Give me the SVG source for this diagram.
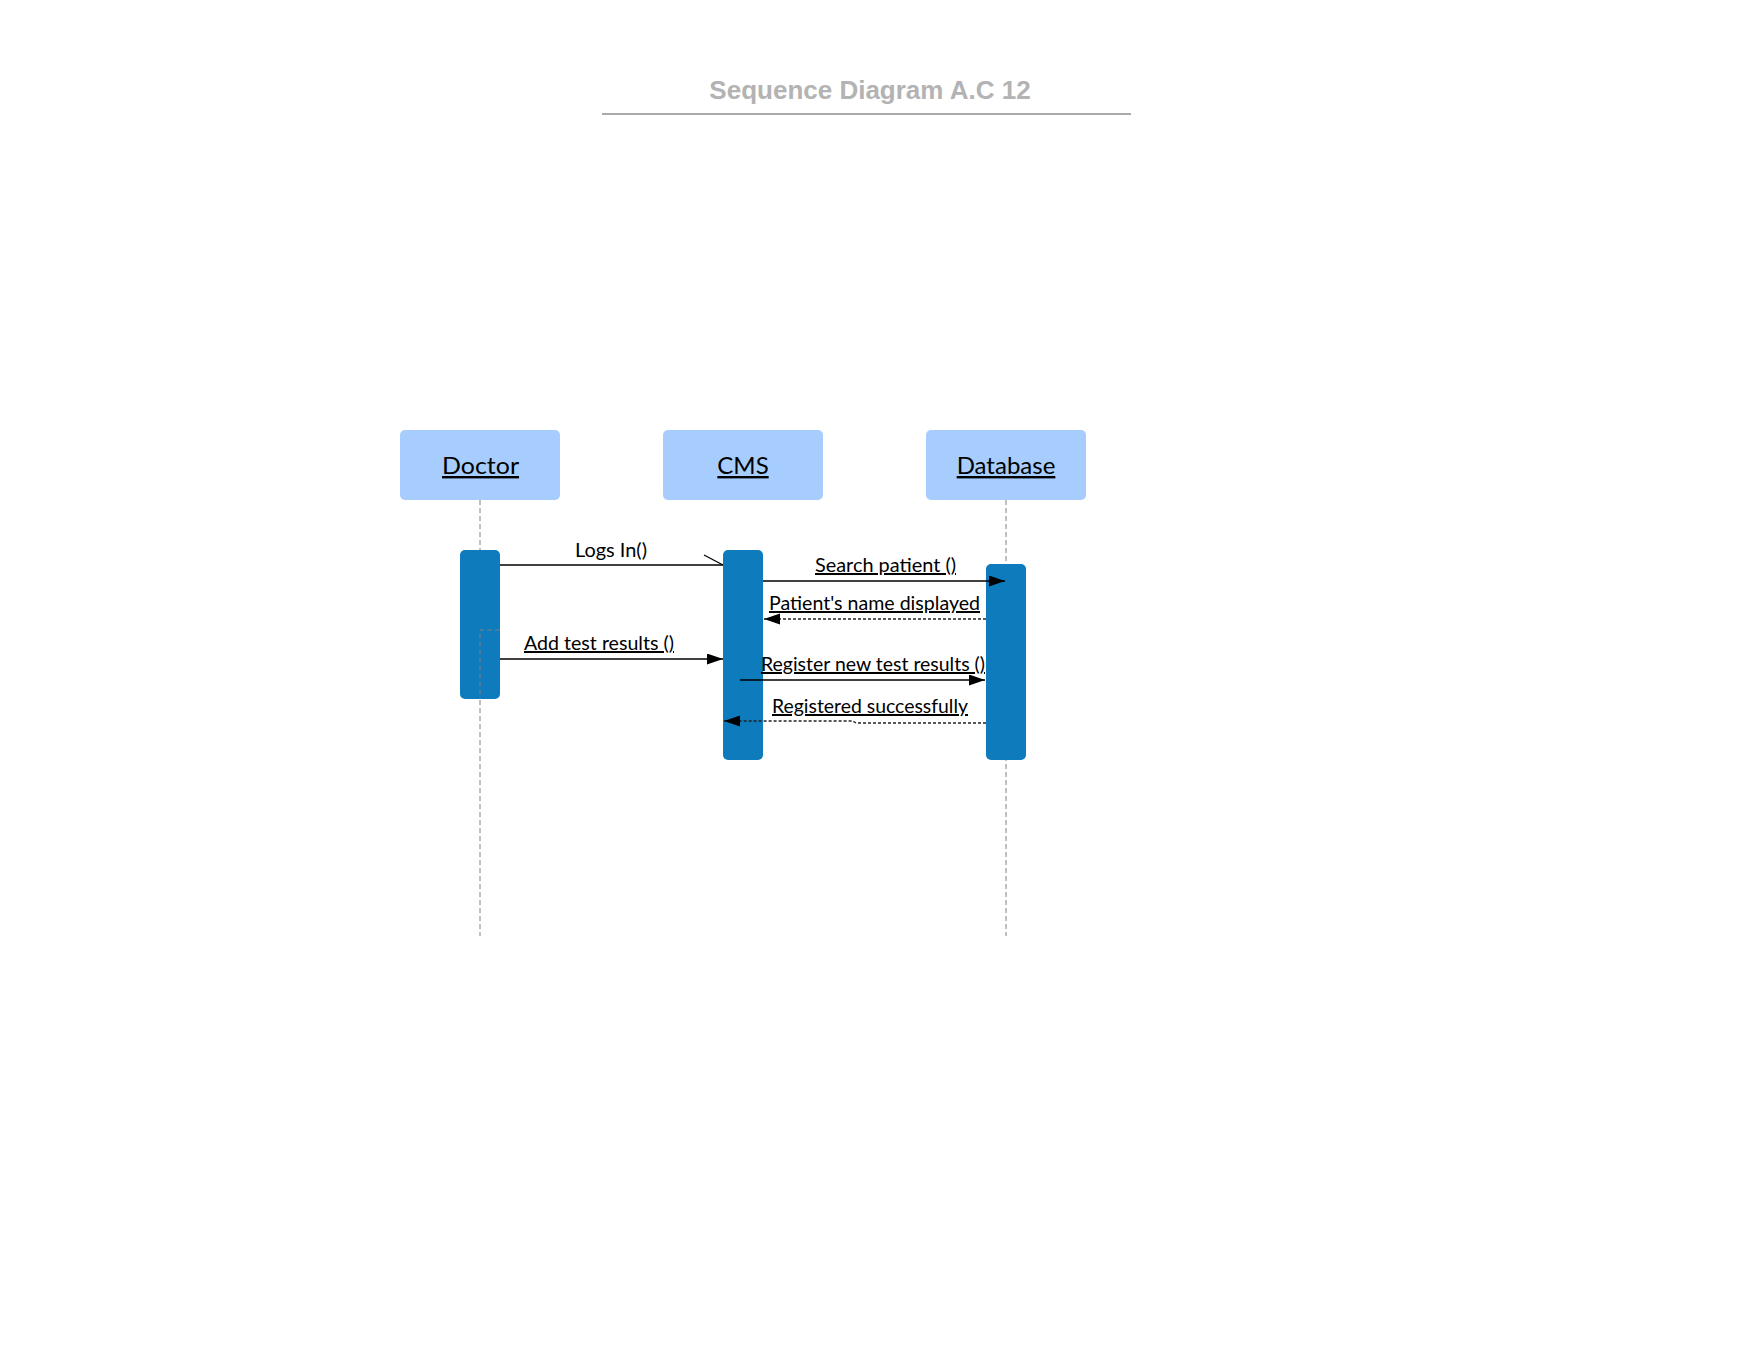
<svg xmlns="http://www.w3.org/2000/svg" width="1760" height="1360" viewBox="0 0 1760 1360">
<style>
.title{font-family:"Liberation Sans",Arial,sans-serif;font-size:26px;font-weight:bold;fill:#b3b3b3}
.head{fill:#a6cdfd}
.bar{fill:#0d7bbc}
.nlabel{font-family:Lato,"Noto Sans",sans-serif;font-size:24px;fill:#000;text-decoration:underline}
.mlabel{font-family:Lato,"Noto Sans",sans-serif;font-size:20px;fill:#000}
.u{text-decoration:underline}
.life{stroke:#808080;stroke-width:1;stroke-dasharray:5 3;fill:none}
.msg{stroke:#000;stroke-width:1.3;fill:none}
.ret{stroke:#222;stroke-width:1.3;fill:none;stroke-dasharray:3 2}
</style>
<defs>
<marker id="arr" markerUnits="userSpaceOnUse" markerWidth="17" markerHeight="12" refX="16" refY="5.5" orient="auto">
<path d="M0,0 L16,5.5 L0,11 z" fill="#000"/>
</marker>
</defs>
<rect width="1760" height="1360" fill="#fff"/>
<g id="title">
<text class="title" x="870" y="99" text-anchor="middle">Sequence Diagram A.C 12</text>
<line x1="602" y1="114" x2="1131" y2="114" stroke="#aaaaaa" stroke-width="2"/>
</g>
<g id="lifelines">
<line class="life" x1="480" y1="500" x2="480" y2="936"/>
<line class="life" x1="1006" y1="500" x2="1006" y2="936"/>
</g>
<g id="doctor">
<rect class="head" x="400" y="430" width="160" height="70" rx="5"/>
<text class="nlabel" x="480.5" y="474" text-anchor="middle" textLength="77" lengthAdjust="spacingAndGlyphs">Doctor</text>
</g>
<g id="cms">
<rect class="head" x="663" y="430" width="160" height="70" rx="5"/>
<text class="nlabel" x="743" y="474" text-anchor="middle">CMS</text>
</g>
<g id="database">
<rect class="head" x="926" y="430" width="160" height="70" rx="5"/>
<text class="nlabel" x="1006" y="474" text-anchor="middle">Database</text>
</g>
<g id="doctor-activation">
<rect class="bar" x="460" y="550" width="40" height="149" rx="5"/>
</g>
<g id="cms-activation">
<rect class="bar" x="723" y="550" width="40" height="210" rx="5"/>
</g>
<g id="database-activation">
<rect class="bar" x="986" y="564" width="40" height="196" rx="5"/>
</g>
<g id="connectors">
<path class="life" d="M500,630 H480 V699"/>
<line class="msg" x1="500" y1="565" x2="723" y2="565"/>
<line class="msg" x1="704" y1="555" x2="723" y2="565"/>
<line class="msg" x1="763" y1="581" x2="1005" y2="581" marker-end="url(#arr)"/>
<line class="ret" x1="986" y1="619" x2="764" y2="619" marker-end="url(#arr)"/>
<line class="msg" x1="500" y1="659" x2="723" y2="659" marker-end="url(#arr)"/>
<line class="msg" x1="740" y1="680" x2="985" y2="680" marker-end="url(#arr)"/>
<path class="ret" d="M986,723 H856 L853,721 H724" marker-end="url(#arr)"/>
</g>
<g id="labels">
<text class="mlabel" x="611" y="557" text-anchor="middle" textLength="72" lengthAdjust="spacingAndGlyphs">Logs In()</text>
<text class="mlabel u" x="885.5" y="572" text-anchor="middle" textLength="141" lengthAdjust="spacingAndGlyphs">Search patient ()</text>
<text class="mlabel u" x="874.5" y="610" text-anchor="middle" textLength="211" lengthAdjust="spacingAndGlyphs">Patient's name displayed</text>
<text class="mlabel u" x="599" y="650" text-anchor="middle" textLength="150" lengthAdjust="spacingAndGlyphs">Add test results ()</text>
<text class="mlabel u" x="873" y="671" text-anchor="middle" textLength="224" lengthAdjust="spacingAndGlyphs">Register new test results ()</text>
<text class="mlabel u" x="870" y="713" text-anchor="middle" textLength="196" lengthAdjust="spacingAndGlyphs">Registered successfully</text>
</g>
</svg>
